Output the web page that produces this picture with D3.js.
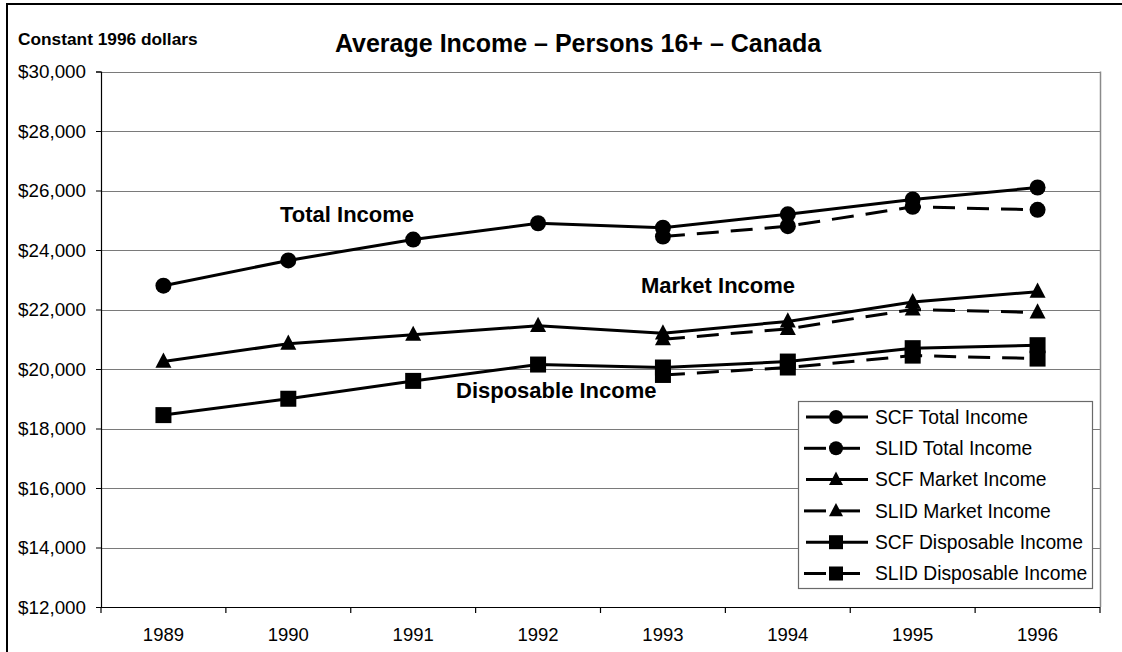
<!DOCTYPE html>
<html>
<head>
<meta charset="utf-8">
<script src="https://cdn.jsdelivr.net/npm/d3@7"></script>
<style>
  html, body { margin: 0; padding: 0; background: #fff; }
  svg { display: block; font-family: "Liberation Sans", Arial, sans-serif; }
</style>
</head>
<body>
<svg id="chart" width="1122" height="652"></svg>
<script>
const years = ["1989", "1990", "1991", "1992", "1993", "1994", "1995", "1996"];
const yTicks = [12000, 14000, 16000, 18000, 20000, 22000, 24000, 26000, 28000, 30000];

const scfTotal   = [22800, 23650, 24350, 24900, 24750, 25200, 25700, 26100];
const slidTotal  = [null, null, null, null, 24450, 24800, 25450, 25350];
const scfMarket  = [20250, 20850, 21150, 21450, 21200, 21600, 22250, 22600];
const slidMarket = [null, null, null, null, 21000, 21350, 22000, 21900];
const scfDisp    = [18450, 19000, 19600, 20150, 20050, 20250, 20700, 20800];
const slidDisp   = [null, null, null, null, 19800, 20050, 20450, 20350];

const seriesNames = ["SCF Total Income", "SLID Total Income", "SCF Market Income",
                     "SLID Market Income", "SCF Disposable Income", "SLID Disposable Income"];
const seriesValues = [scfTotal, slidTotal, scfMarket, slidMarket, scfDisp, slidDisp];
const seriesMarkers = ["circle", "circle", "triangle", "triangle", "square", "square"];
const seriesDashed = [false, true, false, true, false, true];

const title = "Average Income \u2013 Persons 16+ \u2013 Canada";
const unitLabel = "Constant 1996 dollars";
const annotations = ["Total Income", "Market Income", "Disposable Income"];

const svg = d3.select("#chart");
const L = 101, R = 1100, T = 71.5, B = 607;

// outer frame
svg.append("rect").attr("x", 7).attr("y", 4).attr("width", 1300).attr("height", 800)
  .attr("fill", "#fff").attr("stroke", "#000").attr("stroke-width", 2);

const x = d3.scaleBand().domain(years).range([L, R]).padding(0);
const y = d3.scaleLinear().domain([12000, 30000]).range([B, T]);
const cx = d => x(d) + x.bandwidth() / 2;

// gridlines
svg.append("g").selectAll("line").data(yTicks.filter(v => v > 12000)).join("line")
  .attr("x1", L).attr("x2", R).attr("y1", d => Math.round(y(d)) + 0.5).attr("y2", d => Math.round(y(d)) + 0.5)
  .attr("stroke", "#7a7a7a").attr("stroke-width", 1.2);
// right border
svg.append("line").attr("x1", R + 0.5).attr("x2", R + 0.5).attr("y1", y(30000)).attr("y2", B)
  .attr("stroke", "#8a8a8a").attr("stroke-width", 1.5);

// y axis
const yAxis = d3.axisLeft(y).tickValues(yTicks).tickSize(5).tickPadding(10)
  .tickFormat(d => "$" + d3.format(",")(d));
const gy = svg.append("g").attr("transform", `translate(${L},0)`).call(yAxis);
gy.select(".domain").attr("stroke", "#000").attr("stroke-width", 1.2);
gy.selectAll(".tick line").attr("stroke", "#000");
gy.selectAll("text").attr("font-size", 18.8).attr("fill", "#000")
  .attr("font-family", "Liberation Sans, Arial, sans-serif");

// x axis
const gx = svg.append("g").attr("transform", `translate(0,${B})`);
gx.append("line").attr("x1", L).attr("x2", R).attr("y1", 0.5).attr("y2", 0.5)
  .attr("stroke", "#000").attr("stroke-width", 1.2);
const bounds = years.map(d => x(d)).concat([R]);
gx.selectAll("line.tk").data(bounds).join("line").attr("class", "tk")
  .attr("x1", d => d).attr("x2", d => d).attr("y1", 0).attr("y2", 6)
  .attr("stroke", "#000").attr("stroke-width", 1.2);
gx.selectAll("text").data(years).join("text")
  .attr("x", d => cx(d)).attr("y", 34).attr("text-anchor", "middle")
  .attr("font-size", 18.5).attr("fill", "#000").text(d => d);

// markers
function marker(g, type, px, py, s) {
  if (type === "circle") {
    g.append("circle").attr("cx", px).attr("cy", py).attr("r", s / 2).attr("fill", "#000");
  } else if (type === "square") {
    g.append("rect").attr("x", px - s / 2).attr("y", py - s / 2).attr("width", s).attr("height", s).attr("fill", "#000");
  } else {
    const h = s * 0.95;
    g.append("path").attr("d", `M${px},${py - h * 0.6}L${px + s / 2},${py + h * 0.4}L${px - s / 2},${py + h * 0.4}Z`)
      .attr("fill", "#000");
  }
}

const line = d3.line().defined(d => d.v != null).x(d => cx(d.yr)).y(d => y(d.v));
const order = [1, 3, 5, 0, 2, 4];
order.forEach(i => {
  const pts = years.map((yr, j) => ({ yr, v: seriesValues[i][j] }));
  const g = svg.append("g");
  g.append("path").datum(pts).attr("d", line).attr("fill", "none").attr("stroke", "#000")
    .attr("stroke-width", 3).attr("stroke-dasharray", seriesDashed[i] ? "22,12" : null);
  pts.filter(d => d.v != null).forEach(d => marker(g, seriesMarkers[i], cx(d.yr), y(d.v), 16));
});

// annotations
svg.append("text").attr("x", 280).attr("y", 222).attr("font-size", 22).attr("font-weight", "bold").text(annotations[0]);
svg.append("text").attr("x", 641).attr("y", 293).attr("font-size", 22).attr("font-weight", "bold").text(annotations[1]);
svg.append("text").attr("x", 456).attr("y", 398).attr("font-size", 22).attr("font-weight", "bold").text(annotations[2]);

// title
svg.append("text").attr("x", 578).attr("y", 52).attr("text-anchor", "middle")
  .attr("font-size", 25).attr("font-weight", "bold").text(title);
svg.append("text").attr("x", 18).attr("y", 45).attr("font-size", 17.3).attr("font-weight", "bold").text(unitLabel);

// legend
const lg = svg.append("g");
lg.append("rect").attr("x", 798.5).attr("y", 401.5).attr("width", 294).attr("height", 187)
  .attr("fill", "#fff").attr("stroke", "#6a6a6a").attr("stroke-width", 1.2);
seriesNames.forEach((name, i) => {
  const ly = 417 + i * 31.3;
  if (seriesDashed[i]) {
    lg.append("line").attr("x1", 804).attr("x2", 826).attr("y1", ly).attr("y2", ly).attr("stroke", "#000").attr("stroke-width", 3);
    lg.append("line").attr("x1", 836).attr("x2", 860).attr("y1", ly).attr("y2", ly).attr("stroke", "#000").attr("stroke-width", 3);
  } else {
    lg.append("line").attr("x1", 806).attr("x2", 868).attr("y1", ly).attr("y2", ly).attr("stroke", "#000").attr("stroke-width", 3);
  }
  marker(lg, seriesMarkers[i], 836, ly, 14);
  lg.append("text").attr("x", 875).attr("y", ly).attr("dy", "0.35em").attr("font-size", 19.3).text(name);
});
</script>
</body>
</html>
